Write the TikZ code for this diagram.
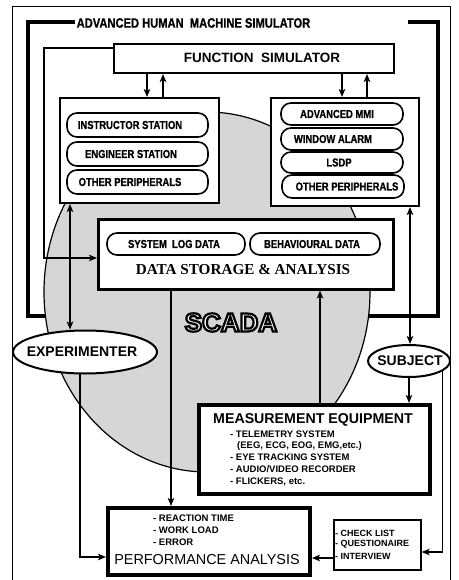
\documentclass[tikz,border=0pt]{standalone}
\usepackage{fontspec}
\setmainfont{Liberation Sans}
\newfontfamily\cnd[FakeStretch=0.82,FakeBold=0.8]{Liberation Sans Bold}
\newfontfamily\srf{Liberation Serif}
\usetikzlibrary{arrows.meta,calc,shapes.geometric}
\newcommand\outlinetext[1]{\special{pdf:literal direct 2 Tr 2.2 w 0 0 0 RG 1 1 1 rg}#1\special{pdf:literal direct 0 Tr 0 0 0 rg}}
\begin{document}
\begin{tikzpicture}[x=1pt,y=-1pt,
  box/.style={draw, fill=white, line width=2pt, inner sep=0, anchor=north west},
  pill/.style={draw, fill=white, line width=1.6pt, rounded corners=10pt, inner sep=0},
  lbl/.style={font=\cnd\fontsize{11.5}{12}\selectfont, inner sep=0},
  big/.style={font=\bfseries\fontsize{14}{16}\selectfont, inner sep=0},
  item/.style={font=\bfseries\fontsize{9.5}{11}\selectfont, inner sep=0, anchor=west},
  citem/.style={font=\bfseries\fontsize{9}{10}\selectfont, inner sep=0, anchor=west},
  scadaf/.style={font=\bfseries\fontsize{26}{28}\selectfont, inner sep=0},
  tip/.tip={Stealth[length=8pt,width=6.5pt,inset=2pt]},
  arr/.style={line width=1.6pt, -tip},
  darr/.style={line width=1.6pt, tip-tip},
  oval/.style={ellipse, draw, fill=white, line width=2pt, inner sep=0},
]
\useasboundingbox (0,0) rectangle (458,580);
% outer frame
\draw[line width=1pt] (12,580) -- (12,7) -- (450,7) -- (450,580);
% AHMS frame
\draw[line width=3.5pt, line join=miter] (75,22) -- (28,22) -- (28,316) -- (438,316) -- (438,22) -- (408,22);
% SCADA background
\node[ellipse, draw, fill=black!16, line width=1.2pt, minimum width=326pt, minimum height=360pt, inner sep=0] (scadabg) at (207,292) {};
% SCADA label
\node[scadaf] (scada) at (231,322.5) {\outlinetext{SCADA}};
% title
\node[font=\cnd\fontsize{13.6}{15}\selectfont, inner sep=0] (title) at (193.5,23) {ADVANCED HUMAN\ \ MACHINE SIMULATOR};
% Function simulator
\node[box, minimum width=280pt, minimum height=29pt] (fs) at (113,43) {};
\node[font=\bfseries\fontsize{13.5}{15}\selectfont, inner sep=0] (fst) at (262,58) {FUNCTION\ \ SIMULATOR};
% left group
\node[box, minimum width=159pt, minimum height=105pt] (lg) at (59,97) {};
\node[pill, minimum width=141pt, minimum height=24pt] (p1) at (137.5,125) {};
\node[lbl] (p1t) at (130,125) {INSTRUCTOR STATION};
\node[pill, minimum width=141pt, minimum height=24pt] (p2) at (137.5,154) {};
\node[lbl] (p2t) at (131,154) {ENGINEER STATION};
\node[pill, minimum width=141pt, minimum height=24pt] (p3) at (137.5,182) {};
\node[lbl] (p3t) at (130,182) {OTHER PERIPHERALS};
% right group
\node[box, minimum width=148pt, minimum height=108pt] (rg) at (270,97) {};
\node[pill, minimum width=122pt, minimum height=22pt] (q1) at (342,114) {};
\node[lbl] (q1t) at (337,114) {ADVANCED MMI};
\node[pill, minimum width=122pt, minimum height=22pt] (q2) at (342,139) {};
\node[lbl] (q2t) at (333,139) {WINDOW ALARM};
\node[pill, minimum width=122pt, minimum height=21pt] (q3) at (342,162.5) {};
\node[lbl] (q3t) at (339,162.5) {LSDP};
\node[pill, minimum width=122pt, minimum height=23pt] (q4) at (343,186.5) {};
\node[lbl] (q4t) at (347,186.5) {OTHER PERIPHERALS};
% data storage
\node[box, line width=2.5pt, minimum width=295pt, minimum height=70pt] (dsa) at (97,218) {};
\node[pill, minimum width=138pt, minimum height=22pt] (d1) at (176,244) {};
\node[lbl] (d1t) at (174,244) {SYSTEM\ \ LOG DATA};
\node[pill, minimum width=130pt, minimum height=22pt] (d2) at (315,244) {};
\node[lbl] (d2t) at (312,244) {BEHAVIOURAL DATA};
\node[font=\srf\bfseries\fontsize{15.2}{17}\selectfont, inner sep=0] (dsat) at (243,270) {DATA STORAGE \& ANALYSIS};
% experimenter and subject
\node[oval, minimum width=144pt, minimum height=43pt] (exp) at (85,352) {};
\node[big] (expt) at (82,352) {EXPERIMENTER};
\node[oval, minimum width=82pt, minimum height=32pt] (subj) at (409,361) {};
\node[big] (subjt) at (410,361) {SUBJECT};
% measurement equipment
\node[box, line width=4pt, minimum width=231pt, minimum height=89pt] (meq) at (197,403) {};
\node[big, font=\bfseries\fontsize{14.2}{16}\selectfont] (meqt) at (313,420) {MEASUREMENT EQUIPMENT};
\node[item] (m1) at (230,434) {- TELEMETRY SYSTEM};
\node[item] (m2) at (237,446) {(EEG, ECG, EOG, EMG,etc.)};
\node[item] (m3) at (230,457.5) {- EYE TRACKING SYSTEM};
\node[item] (m4) at (230,469.5) {- AUDIO/VIDEO RECORDER};
\node[item] (m5) at (230,482) {- FLICKERS, etc.};
% performance analysis
\node[box, line width=4pt, minimum width=202pt, minimum height=67pt] (perf) at (106,506) {};
\node[item] (r1) at (153,518) {- REACTION TIME};
\node[item] (r2) at (153,530) {- WORK LOAD};
\node[item] (r3) at (153,542) {- ERROR};
\node[font=\fontsize{14.4}{16}\selectfont, inner sep=0] (perft) at (207,560) {PERFORMANCE ANALYSIS};
% check list
\node[box, line width=1.6pt, minimum width=87pt, minimum height=50pt] (chk) at (333,519) {};
\node[citem] (c1) at (335,533) {- CHECK LIST};
\node[citem] (c2) at (335,544.5) {- QUESTIONAIRE};
\node[citem] (c3) at (335,556) {- INTERVIEW};
% connectors
\draw[arr] (147,0 |- fs.south) -- (147,0 |- lg.north);
\draw[arr] (163,0 |- lg.north) -- (163,0 |- fs.south);
\draw[arr] (342,0 |- fs.south) -- (342,0 |- rg.north);
\draw[arr] (367,0 |- rg.north) -- (367,0 |- fs.south);
\draw[arr, line join=miter] (fs.west |- 0,48) -- (44,48) -- (44,258) -- (dsa.west |- 0,258);
\draw[darr] (70,0 |- lg.south) -- (70,0 |- exp.north);
\draw[arr, line join=miter] (exp.-102) -- (exp.-102 |- 0,557) -- (perf.west |- 0,557);
\draw[arr] (171,0 |- dsa.south) -- (171,0 |- perf.north);
\draw[arr] (320,0 |- meq.north) -- (320,0 |- dsa.south);
\draw[darr] (410,0 |- rg.south) -- (410,0 |- subj.north);
\draw[arr] (409,0 |- subj.south) -- (409,0 |- meq.north);
\draw[arr, line join=miter] (subj.-17) -- (subj.-17 |- 0,552) -- (chk.east |- 0,552);
\draw[arr] (chk.west |- 0,558) -- (perf.east |- 0,558);
\end{tikzpicture}
\end{document}
